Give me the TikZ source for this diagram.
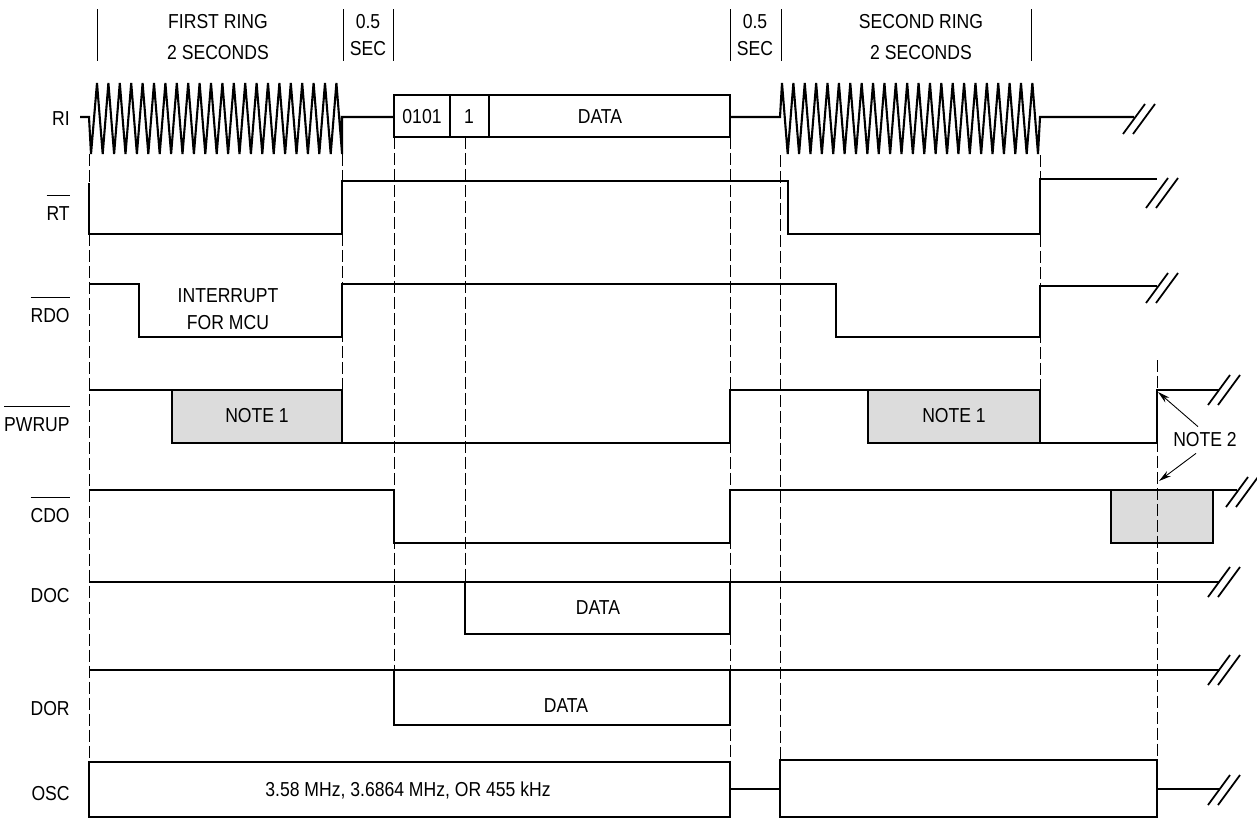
\documentclass[tikz,border=0pt]{standalone}
\usepackage{fontspec}
\setmainfont{Liberation Sans}[FakeStretch=0.87]
\usetikzlibrary{arrows.meta}
\definecolor{notegray}{RGB}{220,220,220}
\newcommand{\ovl}[1]{$\overline{\mbox{\rule{0pt}{12.5pt}#1}}$}

\begin{document}
\begin{tikzpicture}[x=0.02cm, y=-0.02cm, font=\fontsize{11.5}{15}\selectfont,
  sig/.style={line width=1.05pt, line join=miter},
  notebox/.style={sig, fill=notegray},
  guide/.style={line width=0.5pt, dash pattern=on 6.8pt off 2.3pt},
  tick/.style={line width=0.5pt},
  brk/.style={line width=1pt},
  notearrow/.style={line width=0.5pt, -{Stealth[length=7pt, width=3.6pt]}}]
  \useasboundingbox (0,0) rectangle (1257,819);
  % headings
  \foreach \xt in {97,343,393,730,781,1031}
    \draw[tick] (\xt,9) -- (\xt,61);
  \node[align=center] (ring1) at (218,37) {FIRST RING\\[2.6pt]2 SECONDS};
  \node[align=center] (gap1) at (368,35) {0.5\\SEC};
  \node[align=center] (gap2) at (755,35) {0.5\\SEC};
  \node[align=center] (ring2) at (921,37) {SECOND RING\\[2.6pt]2 SECONDS};
  % signal names
  \foreach \nm/\txt/\yb in {ri/RI/125, rt/\ovl{RT}/220, rdo/\ovl{RDO}/322,
    pwrup/\ovl{PWRUP}/431, cdo/\ovl{CDO}/522, doc/DOC/602, dor/DOR/715, osc/OSC/800}
    \node[anchor=base east, inner sep=0pt] (\nm) at (70,\yb) {\txt};
  % RI
  \draw[sig, line width=1.2pt] (80,117) -- (89,117) -- (91,154)
    \foreach \k in {0,...,21} { -- ({97+11.4*\k},83) -- ({102.7+11.4*\k},154) }
    -- (342,117) -- (394,117);
  \draw[sig] (394,95) rectangle (730,137);
  \draw[sig] (450,95) -- (450,137) (489,95) -- (489,137);
  \node (hdr) at (422,117) {0101};
  \node (flag) at (469,117) {1};
  \node (ridata) at (600,117) {DATA};
  \draw[sig, line width=1.2pt] (730,117) -- (780,117) -- (782,83)
    \foreach \k in {0,...,21} { -- ({782+11.38*(\k+0.5)},154) -- ({782+11.38*(\k+1)},83) }
    -- (1038,154) -- (1040,117) -- (1134,117);
  % RT, RDO
  \draw[sig] (89,183) -- (89,234) -- (342,234) -- (342,181) -- (788,181) -- (788,234)
    -- (1040,234) -- (1040,179) -- (1157,179);
  \draw[sig] (89,284) -- (139,284) -- (139,337) -- (342,337) -- (342,284) -- (836,284)
    -- (836,337) -- (1040,337) -- (1040,286) -- (1157,286);
  \node[align=center] (irq) at (228,309) {INTERRUPT\\FOR MCU};
  % PWRUP
  \draw[notebox] (172,390) rectangle (342,443);
  \draw[notebox] (868,390) rectangle (1040,443);
  \draw[sig] (89,390) -- (342,390);
  \draw[sig] (172,443) -- (730,443) -- (730,390) -- (1040,390);
  \draw[sig] (868,443) -- (1157,443) -- (1157,390) -- (1219,390);
  \node (note1a) at (257,416) {NOTE 1};
  \node (note1b) at (954,416) {NOTE 1};
  % CDO
  \draw[notebox] (1111,490) rectangle (1213,543);
  \draw[sig] (89,490) -- (394,490) -- (394,543) -- (730,543) -- (730,490) -- (1237,490);
  % DOC, DOR
  \draw[sig] (89,582) -- (1219,582);
  \draw[sig] (465,582) rectangle (730,634);
  \node (docdata) at (598,608) {DATA};
  \draw[sig] (89,670) -- (1219,670);
  \draw[sig] (394,670) rectangle (730,725);
  \node (dordata) at (566,706) {DATA};
  % OSC
  \draw[sig] (89,762) rectangle (730,817);
  \draw[sig] (730,789) -- (780,789);
  \draw[sig] (780,760) rectangle (1157,817);
  \draw[sig] (1157,789) -- (1219,789);
  \node (freq) at (408,790) {3.58 MHz, 3.6864 MHz, OR 455 kHz};
  % guide lines
  \foreach \xg/\ya/\yb in {89/154/762, 342/154/390, 394/137/670, 465/137/582,
    730/137/762, 780/155/760, 1040/155/390, 1157/360/760}
    \draw[guide] (\xg,\ya) -- (\xg,\yb);
  % breaks
  \foreach \bx/\by in {1123/119, 1146/193, 1146/288, 1208/390, 1226/492,
    1208/582, 1208/670, 1208/790}
  {
    \draw[brk] (\bx,\by+15) -- (\bx+22,\by-15);
    \draw[brk] (\bx+10,\by+15) -- (\bx+32,\by-15);
  }
  % note 2
  \node (note2) at (1205,440) {NOTE 2};
  \coordinate (pwrupedge) at (1158,392);
  \coordinate (cdoedge) at (1159,481);
  \draw[notearrow] ([xshift=-0.14cm]note2.north) -- (pwrupedge);
  \draw[notearrow] ([xshift=-0.18cm]note2.south) -- (cdoedge);
\end{tikzpicture}
\end{document}
